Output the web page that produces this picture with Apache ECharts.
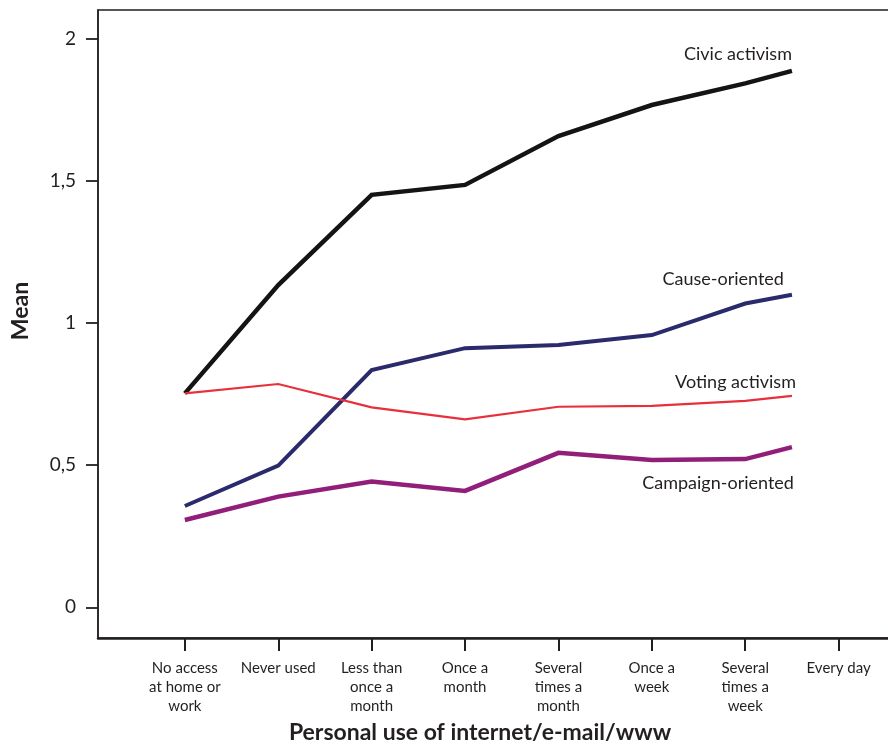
<!DOCTYPE html>
<html>
<head>
<meta charset="utf-8">
<script src="https://cdn.jsdelivr.net/npm/echarts@6/dist/echarts.min.js"></script>
<style>
html,body{margin:0;padding:0;background:#fff;overflow:hidden;}
#chart{width:888px;height:744px;}
</style>
</head>
<body>
<div id="chart"></div>
<script>
// Categories (x positions 0..7) and tick labels
var categories = ['No access\nat home or\nwork', 'Never used', 'Less than\nonce a\nmonth', 'Once a\nmonth', 'Several\ntimes a\nmonth', 'Once a\nweek', 'Several\ntimes a\nweek', 'Every day'];
var categoryPositions = [0, 1, 2, 3, 4, 5, 6, 7];
// x positions where the lines are plotted (last point drawn half-way to "Every day" as in the original)
var pointPositions = [0, 1, 2, 3, 4, 5, 6, 6.5];
var yTicks = [0, 0.5, 1, 1.5, 2];

var seriesNames = ['Civic activism', 'Cause-oriented', 'Voting activism', 'Campaign-oriented'];
var civic    = [0.752, 1.133, 1.45, 1.485, 1.657, 1.766, 1.842, 1.886];
var cause    = [0.356, 0.498, 0.834, 0.911, 0.922, 0.957, 1.068, 1.099];
var voting   = [0.752, 0.785, 0.703, 0.661, 0.705, 0.708, 0.726, 0.743];
var campaign = [0.307, 0.389, 0.442, 0.409, 0.543, 0.518, 0.521, 0.563];

var textColor = '#231f20';
var font = 'Lato, "Noto Sans", sans-serif';

function build(values, labelCfg) {
  return values.map(function (v, i) {
    var item = { value: [pointPositions[i], v] };
    if (i === values.length - 1) {
      item.label = labelCfg;
    }
    return item;
  });
}

function endLabel(name, pos, offset) {
  return {
    show: true,
    formatter: name,
    position: pos,
    distance: 0,
    align: 'right',
    offset: offset,
    color: textColor,
    fontFamily: font,
    fontSize: 18
  };
}

function lineSeries(name, values, color, width, label) {
  return {
    name: name,
    type: 'line',
    data: build(values, label),
    symbol: 'circle',
    symbolSize: 0,
    showSymbol: true,
    lineStyle: { color: color, width: width, join: 'miter', cap: 'butt' },
    itemStyle: { color: color },
    emphasis: { disabled: true },
    z: 3
  };
}

var chart = echarts.init(document.getElementById('chart'));
chart.setOption({
  animation: false,
  backgroundColor: '#fff',
  grid: {
    left: 98, top: 10, right: -2, bottom: 106,
    show: true, borderColor: '#231f20', borderWidth: 1.5,
    containLabel: false,
    outerBoundsMode: 'none'
  },
  xAxis: {
    type: 'value',
    min: -0.93,
    max: 7.55,
    name: 'Personal use of internet/e-mail/www',
    nameLocation: 'middle',
    nameGap: 82,
    nameTextStyle: { color: textColor, fontFamily: font, fontSize: 23, fontWeight: 'bold', padding: [0, 28, 0, 0] },
    splitLine: { show: false },
    axisLine: { show: true, onZero: false, lineStyle: { color: '#231f20', width: 2.5 } },
    axisTick: { show: true, customValues: categoryPositions, length: 13, lineStyle: { color: '#231f20', width: 2 } },
    axisLabel: {
      show: true,
      customValues: categoryPositions,
      margin: 21,
      color: textColor,
      fontFamily: font,
      fontSize: 15,
      lineHeight: 19,
      align: 'center',
      formatter: function (v) { return categories[Math.round(v)]; }
    }
  },
  yAxis: {
    type: 'value',
    min: -0.108,
    max: 2.1,
    name: 'Mean',
    nameLocation: 'middle',
    nameGap: 66,
    nameRotate: 90,
    nameTextStyle: { color: textColor, fontFamily: font, fontSize: 23, fontWeight: 'bold', padding: [0, 0, 0, 26] },
    splitLine: { show: false },
    axisLine: { show: true, onZero: false, lineStyle: { color: '#231f20', width: 1.5 } },
    axisTick: { show: true, customValues: yTicks, length: 12, lineStyle: { color: '#231f20', width: 1.8 } },
    axisLabel: {
      show: true,
      customValues: yTicks,
      margin: 22,
      color: textColor,
      fontFamily: font,
      fontSize: 19,
      formatter: function (v) { return String(v).replace('.', ','); }
    }
  },
  series: [
    lineSeries(seriesNames[0], civic, '#141414', 4.5, endLabel(seriesNames[0], 'top', [0, -8])),
    lineSeries(seriesNames[1], cause, '#2a2a6c', 4, endLabel(seriesNames[1], 'top', [-8, -7])),
    lineSeries(seriesNames[2], voting, '#e8303c', 2.2, endLabel(seriesNames[2], 'top', [4, -5])),
    lineSeries(seriesNames[3], campaign, '#911e79', 4.5, endLabel(seriesNames[3], 'bottom', [2, 27]))
  ]
});
</script>
</body>
</html>
